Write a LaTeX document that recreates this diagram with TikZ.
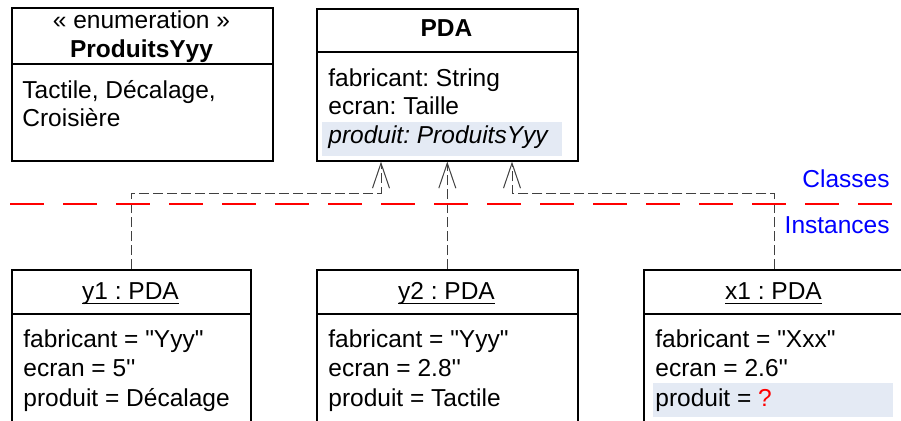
\documentclass[tikz,border=0pt]{standalone}
\usepackage{fontspec}
\setmainfont{Liberation Sans}
\usetikzlibrary{arrows.meta}
\definecolor{hilite}{RGB}{228,234,244}
\newcommand\ulined[1]{\setbox0\hbox{#1}\rlap{\rule[-2.4pt]{\wd0}{0.6pt}}\box0}
\tikzset{txt/.style={inner sep=0,font=\fontsize{12.25}{14.25}\selectfont\frenchspacing},
    umlbox/.style={draw,line width=0.8pt,anchor=north west,inner sep=0,minimum width=#1},
    sep/.style={line width=0.8pt}}

\begin{document}
\begin{tikzpicture}[x=0.5pt,y=-0.5pt,
        dep/.style={draw=black!75,line width=0.5pt,dash pattern=on 5pt off 2pt,
            -{Straight Barb[length=12.5pt,width=8.5pt]}},
        attr/.style={txt,anchor=base west},
        title/.style={txt,anchor=base}]
    \path[use as bounding box,clip] (0,0) rectangle (901,420);
        \fill[hilite] (322,122) rectangle (562,156);
        \fill[hilite] (653,383) rectangle (893,417);

        \node[umlbox=130.5pt,minimum height=76.5pt] (enum) at (11,7) {};
        \draw[sep] (enum.west |- 0,64) -- (enum.east |- 0,64);
        \node[title] (enum-st) at (141.5,28) {« enumeration »};
        \node[title] (enum-nm) at (141.5,57) {\textbf{ProduitsYyy}};
        \node[attr] (enum-l1) at (22,98) {Tactile, Décalage,};
        \node[attr] (enum-l2) at (22,126) {Croisière};

        \node[umlbox=130.5pt,minimum height=76pt] (pda) at (316,8) {};
        \draw[sep] (pda.west |- 0,52) -- (pda.east |- 0,52);
        \node[title] (pda-nm) at (446.5,36) {\textbf{PDA}};
        \node[attr] (pda-a1) at (328,86) {fabricant: String};
        \node[attr] (pda-a2) at (328,114) {ecran: Taille};
        \node[attr] (pda-a3) at (328,143) {\textit{produit: ProduitsYyy}};

        \node[umlbox=119.5pt,minimum height=80pt] (y1) at (11,269) {};
        \draw[sep] (y1.west |- 0,314) -- (y1.east |- 0,314);
        \node[title] (y1-nm) at (130.5,299) {\ulined{y1 : PDA}};
        \node[attr] (y1-a1) at (23,347) {fabricant = \textquotedbl Yyy\textquotedbl};
        \node[attr] (y1-a2) at (23,376.5) {ecran = 5\textquotesingle\textquotesingle};
        \node[attr] (y1-a3) at (23,406) {produit = Décalage};

        \node[umlbox=130.5pt,minimum height=80pt] (y2) at (316,269) {};
        \draw[sep] (y2.west |- 0,314) -- (y2.east |- 0,314);
        \node[title] (y2-nm) at (446.5,299) {\ulined{y2 : PDA}};
        \node[attr] (y2-a1) at (328,347) {fabricant = \textquotedbl Yyy\textquotedbl};
        \node[attr] (y2-a2) at (328,376.5) {ecran = 2.8\textquotesingle\textquotesingle};
        \node[attr] (y2-a3) at (328,406) {produit = Tactile};

        \node[umlbox=130.5pt,minimum height=80pt] (x1) at (643,269) {};
        \draw[sep] (x1.west |- 0,314) -- (x1.east |- 0,314);
        \node[title] (x1-nm) at (773.5,299) {\ulined{x1 : PDA}};
        \node[attr] (x1-a1) at (655,347) {fabricant = \textquotedbl Xxx\textquotedbl};
        \node[attr] (x1-a2) at (655,376.5) {ecran = 2.6\textquotesingle\textquotesingle};
        \node[attr] (x1-a3) at (655,406) {produit = \textcolor{red}{?}};

        \coordinate (k1) at (381,193);
        \coordinate (k3) at (512,193);
        \draw[dep] (y1.north) |- (k1) -- (k1 |- pda.south);
        \draw[dep] (y2.north) -- (pda.south);
        \draw[dep] (x1.north) |- (k3) -- (k3 |- pda.south);

        \coordinate (cut-w) at (10,204);
        \coordinate (cut-e) at (893,204);
        \draw[red,line width=1.2pt,dash pattern=on 17pt off 9.5pt] (cut-w) -- (cut-e);
        \node[txt,anchor=base east,text=blue] (classes) at (890,187) {Classes};
        \node[txt,anchor=base east,text=blue] (instances) at (890,233) {Instances};
    \end{tikzpicture}
\end{document}
